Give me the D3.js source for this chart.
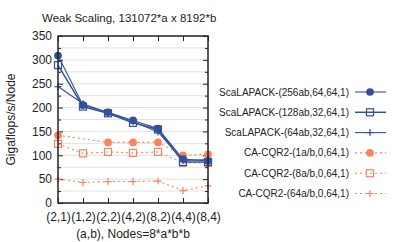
<!DOCTYPE html>
<html>
<head>
<meta charset="utf-8">
<script src="https://cdn.jsdelivr.net/npm/d3@7"></script>
<style>
  body { margin: 0; background: #fff; }
  svg { display: block; }
  text { font-family: "Liberation Sans", Arial, sans-serif; fill: #222; }
</style>
</head>
<body>
<div id="chart"></div>
<script>
// data
const categories = ['(2,1)', '(1,2)', '(2,2)', '(4,2)', '(8,2)', '(4,4)', '(8,4)'];
const scalapack256 = [309, 205, 190, 173, 156, 92, 88];
const scalapack128 = [289, 202, 188, 168, 154, 86, 86];
const scalapack64 = [244, 208, 189, 171, 149, 89, 91];
const cacqr1 = [142, null, 127, 127, 127, 100, 102];
const cacqr8 = [124, 104, 107, 105, 107, 84, 84];
const cacqr64 = [50, 43, 45, 45, 46, 26, 36];
const yTicks = [0, 50, 100, 150, 200, 250, 300, 350];
const yMinor = [25, 75, 125, 175, 225, 275, 325];

const blue = '#34509b';
const orange = '#f5845f';

const series = [
  { name: 'ScaLAPACK-(256ab,64,64,1)', values: scalapack256, color: blue, dash: null, marker: 'circle', lw: 1.1 },
  { name: 'ScaLAPACK-(128ab,32,64,1)', values: scalapack128, color: blue, dash: null, marker: 'square', lw: 1.5 },
  { name: 'ScaLAPACK-(64ab,32,64,1)', values: scalapack64, color: blue, dash: null, marker: 'plus', lw: 1.1 },
  { name: 'CA-CQR2-(1a/b,0,64,1)', values: cacqr1, color: orange, dash: '2,3', marker: 'circle', lw: 1.1 },
  { name: 'CA-CQR2-(8a/b,0,64,1)', values: cacqr8, color: orange, dash: '2,3', marker: 'square', lw: 1.1 },
  { name: 'CA-CQR2-(64a/b,0,64,1)', values: cacqr64, color: orange, dash: '2,3', marker: 'plus', lw: 1.1 }
];

const W = 399, H = 242;
const margin = { left: 58, right: 191, top: 36, bottom: 39 };
const width = W - margin.left - margin.right;
const height = H - margin.top - margin.bottom;

const svg = d3.select('#chart').append('svg')
  .attr('width', W)
  .attr('height', H);

const g = svg.append('g')
  .attr('transform', 'translate(' + margin.left + ',' + margin.top + ')');

const x = d3.scalePoint().domain(categories).range([0, width]).padding(0);
const y = d3.scaleLinear().domain([0, 350]).range([height, 0]);

// grid
g.selectAll('.grid')
  .data(yTicks.concat(yMinor).filter(v => v > 0 && v < 350))
  .enter().append('line')
  .attr('x1', 0).attr('x2', width)
  .attr('y1', d => y(d)).attr('y2', d => y(d))
  .attr('stroke', '#e2e2e2').attr('stroke-width', 1);

// axes (inward ticks like gnuplot)
const styleAxis = sel => {
  sel.select('.domain').remove();
  sel.selectAll('line').attr('stroke', '#222');
  sel.selectAll('text').style('font-size', '12px').attr('fill', '#222');
};
g.append('g').call(d3.axisLeft(y).tickValues(yTicks).tickSize(-5).tickPadding(6)).call(styleAxis);
g.append('g').call(d3.axisLeft(y).tickValues(yMinor).tickSize(-3).tickFormat('')).call(styleAxis);
g.append('g').attr('transform', 'translate(' + width + ',0)')
  .call(d3.axisRight(y).tickValues(yTicks).tickSize(-5).tickFormat('')).call(styleAxis);
g.append('g').attr('transform', 'translate(' + width + ',0)')
  .call(d3.axisRight(y).tickValues(yMinor).tickSize(-3).tickFormat('')).call(styleAxis);
g.append('g').attr('transform', 'translate(0,' + height + ')')
  .call(d3.axisBottom(x).tickSize(-5).tickPadding(9)).call(styleAxis);
g.append('g')
  .call(d3.axisTop(x).tickSize(-5).tickFormat('')).call(styleAxis);

// lines
const line = d3.line()
  .x(d => x(d.c))
  .y(d => y(d.v));

function drawMarker(sel, type, color, size) {
  if (type === 'circle') {
    sel.append('circle').attr('r', size * 0.55).attr('fill', color);
  } else if (type === 'square') {
    sel.append('rect')
      .attr('x', -size / 2).attr('y', -size / 2)
      .attr('width', size).attr('height', size)
      .attr('fill', 'none').attr('stroke', color).attr('stroke-width', 1.2);
  } else {
    sel.append('path')
      .attr('d', 'M' + (-size / 2) + ',0H' + (size / 2) + 'M0,' + (-size / 2) + 'V' + (size / 2))
      .attr('stroke', color).attr('stroke-width', 1.2);
  }
}

series.slice().reverse().forEach(s => {
  const pts = categories.map((c, i) => ({ c: c, v: s.values[i] })).filter(d => d.v !== null);
  g.append('path')
    .datum(pts)
    .attr('d', line)
    .attr('fill', 'none')
    .attr('stroke', s.color)
    .attr('stroke-width', s.lw)
    .attr('stroke-dasharray', s.dash);
  pts.forEach(d => {
    const m = g.append('g').attr('transform', 'translate(' + x(d.c) + ',' + y(d.v) + ')');
    drawMarker(m, s.marker, s.color, 7);
  });
});

// frame
g.append('rect')
  .attr('width', width).attr('height', height)
  .attr('fill', 'none').attr('stroke', '#222').attr('stroke-width', 1.5);

// title and labels
svg.append('text')
  .attr('x', 42).attr('y', 22)
  .style('font-size', '11.5px')
  .text('Weak Scaling, 131072*a x 8192*b');

svg.append('text')
  .attr('x', margin.left + width / 2).attr('y', 238)
  .attr('text-anchor', 'middle')
  .style('font-size', '12px')
  .text('(a,b), Nodes=8*a*b*b');

svg.append('text')
  .attr('transform', 'translate(15,' + (margin.top + height / 2) + ') rotate(-90)')
  .attr('text-anchor', 'middle')
  .style('font-size', '12px')
  .text('Gigaflops/s/Node');

// legend
const legend = svg.append('g').attr('transform', 'translate(349,92)');
series.forEach((s, i) => {
  const row = legend.append('g').attr('transform', 'translate(0,' + (i * 20.3) + ')');
  row.append('text')
    .attr('x', 0).attr('dy', '0.35em')
    .attr('text-anchor', 'end')
    .style('font-size', '10px')
    .text(s.name);
  row.append('line')
    .attr('x1', 6).attr('x2', 37)
    .attr('stroke', s.color)
    .attr('stroke-width', s.lw)
    .attr('stroke-dasharray', s.dash);
  const m = row.append('g').attr('transform', 'translate(21,0)');
  drawMarker(m, s.marker, s.color, 7);
});
</script>
</body>
</html>
